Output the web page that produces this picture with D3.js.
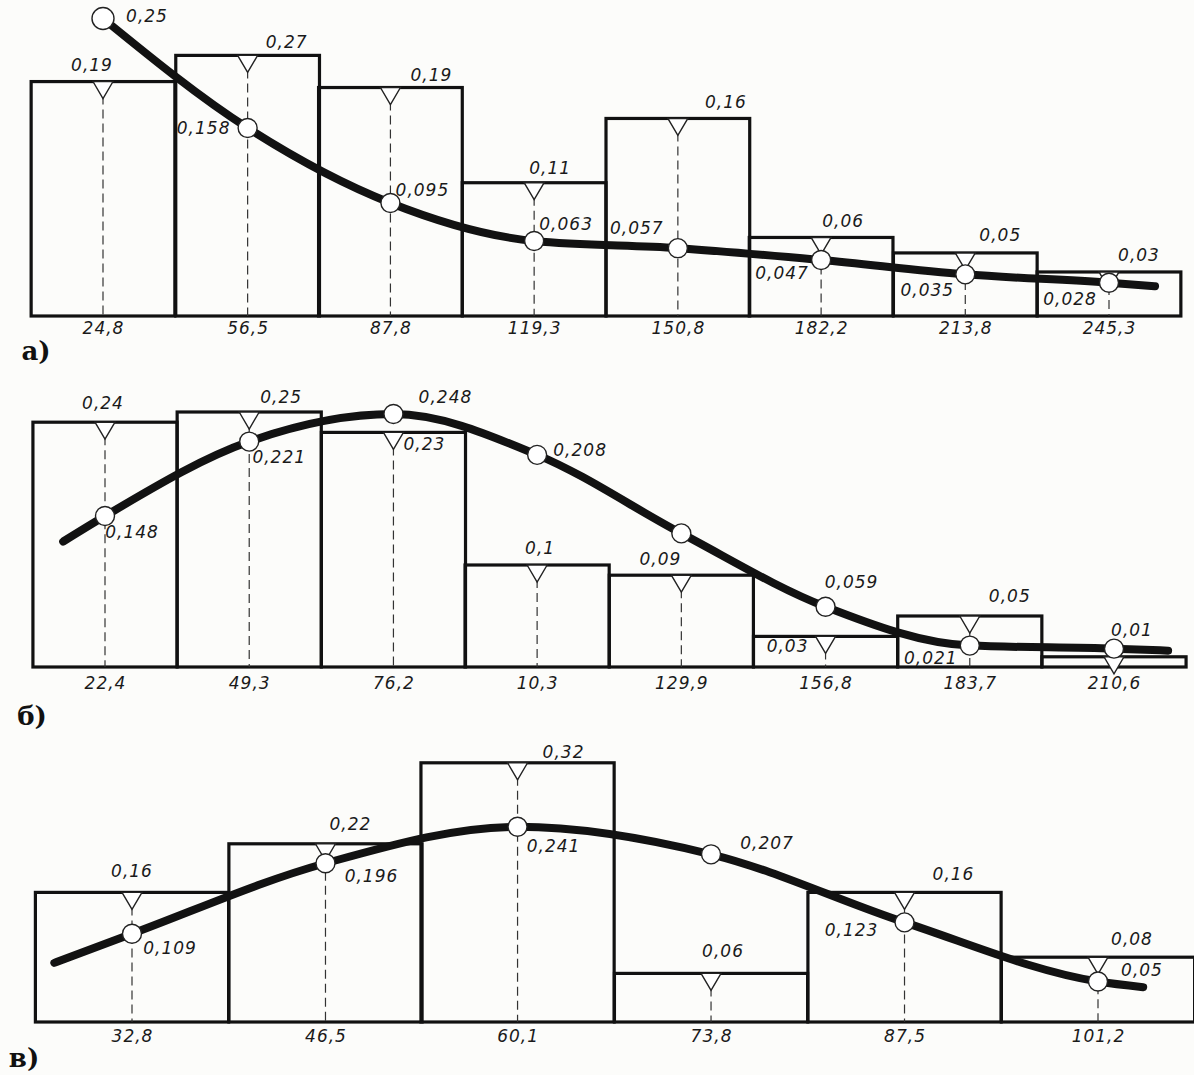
<!DOCTYPE html>
<html>
<head>
<meta charset="utf-8">
<script src="https://cdn.jsdelivr.net/npm/d3@7"></script>
<style>
  html, body { margin: 0; padding: 0; background: #fcfcfa; }
  svg { display: block; }
  .val, .tick { font-family: "DejaVu Sans", sans-serif; font-style: italic; font-weight: 300; font-size: 17px; letter-spacing: 1px; fill: #1a1a1a; }
  .panel { font-family: "DejaVu Serif", serif; font-weight: bold; font-size: 26px; fill: #111; }
</style>
</head>
<body>
<svg id="chart" width="1194" height="1075"></svg>
<script>
// ---------- Panel а ----------
const aMids = [24.8, 56.5, 87.8, 119.3, 150.8, 182.2, 213.8, 245.3];
const aTickLabels = ["24,8", "56,5", "87,8", "119,3", "150,8", "182,2", "213,8", "245,3"];
const aBarHeights = [0.197, 0.219, 0.192, 0.112, 0.166, 0.066, 0.053, 0.037]; // heights as drawn
const aBarLabels = ["0,19", "0,27", "0,19", "0,11", "0,16", "0,06", "0,05", "0,03"];
const aCurveValues = [0.25, 0.158, 0.095, 0.063, 0.057, 0.047, 0.035, 0.028];
const aCurveLabels = ["0,25", "0,158", "0,095", "0,063", "0,057", "0,047", "0,035", "0,028"];
const aCurveStart = null;
const aCurveEnd = [255.4, 0.025];

// ---------- Panel б ----------
const bMids = [22.4, 49.3, 76.2, 103.0, 129.9, 156.8, 183.7, 210.6];
const bTickLabels = ["22,4", "49,3", "76,2", "10,3", "129,9", "156,8", "183,7", "210,6"];
const bBarHeights = [0.24, 0.25, 0.23, 0.1, 0.09, 0.03, 0.05, 0.01];
const bBarLabels = ["0,24", "0,25", "0,23", "0,1", "0,09", "0,03", "0,05", "0,01"];
const bCurveValues = [0.148, 0.221, 0.248, 0.208, 0.131, 0.059, 0.021, 0.018];
const bCurveLabels = ["0,148", "0,221", "0,248", "0,208", null, "0,059", "0,021", null];
const bCurveStart = [14.6, 0.123];
const bCurveEnd = [220.7, 0.016];

// ---------- Panel в ----------
const cMids = [32.8, 46.5, 60.1, 73.8, 87.5, 101.2];
const cTickLabels = ["32,8", "46,5", "60,1", "73,8", "87,5", "101,2"];
const cBarHeights = [0.16, 0.22, 0.32, 0.06, 0.16, 0.08];
const cBarLabels = ["0,16", "0,22", "0,32", "0,06", "0,16", "0,08"];
const cCurveValues = [0.109, 0.196, 0.241, 0.207, 0.123, 0.05];
const cCurveLabels = ["0,109", "0,196", "0,241", "0,207", "0,123", "0,05"];
const cCurveStart = [27.3, 0.073];
const cCurveEnd = [104.4, 0.043];

const panelNames = ["а)", "б)", "в)"];

// ---------- layout (presentation only) ----------
const layouts = [
  { xr: [103, 1109], base: 316, k: 1190, label: [36, 351], firstR: 11, tickPad: 4,
    barOff: [[-11,-17],[39,-13],[41,-13],[16,-15],[48,-16],[22,-16],[35,-18],[30,-17]],
    curOff: [[44,-3],[-44,0],[32,-13],[32,-17],[-41,-20],[-39,13],[-38,16],[-39,16]] },
  { xr: [105, 1114], base: 667, k: 1020, label: [32, 716], firstR: 9.5, tickPad: 8,
    barOff: [[-2,-19],[32,-15],[31,12],[3,-17],[-21,-16],[-38,10],[40,-20],[18,-27]],
    curOff: [[27,16],[30,15],[52,-17],[43,-5],null,[26,-25],[-39,12],null] },
  { xr: [132, 1098], base: 1022, k: 810, label: [24, 1058], firstR: 9.5, tickPad: 6,
    barOff: [[0,-21],[25,-20],[46,-11],[12,-22],[49,-18],[34,-18]],
    curOff: [[38,14],[46,13],[36,19],[56,-11],[-53,8],[44,-12]] }
];

const panels = [
  { mids: aMids, ticks: aTickLabels, bars: aBarHeights, barLabels: aBarLabels, curve: aCurveValues, curveLabels: aCurveLabels, start: aCurveStart, end: aCurveEnd },
  { mids: bMids, ticks: bTickLabels, bars: bBarHeights, barLabels: bBarLabels, curve: bCurveValues, curveLabels: bCurveLabels, start: bCurveStart, end: bCurveEnd },
  { mids: cMids, ticks: cTickLabels, bars: cBarHeights, barLabels: cBarLabels, curve: cCurveValues, curveLabels: cCurveLabels, start: cCurveStart, end: cCurveEnd }
];

const svg = d3.select("#chart");

panels.forEach((p, pi) => {
  const L = layouts[pi];
  const n = p.mids.length;
  const x = d3.scaleLinear().domain([p.mids[0], p.mids[n - 1]]).range(L.xr);
  const y = d3.scaleLinear().domain([0, 1]).range([L.base, L.base - L.k]);
  const h = (p.mids[n - 1] - p.mids[0]) / (n - 1);
  const g = svg.append("g");

  const data = p.mids.map((m, i) => ({ m, i, bar: p.bars[i], bl: p.barLabels[i], cv: p.curve[i], cl: p.curveLabels[i] }));

  // bars
  g.selectAll("rect.bar").data(data).join("rect")
    .attr("x", d => x(d.m - h / 2))
    .attr("y", d => y(d.bar))
    .attr("width", d => x(d.m + h / 2) - x(d.m - h / 2))
    .attr("height", d => y(0) - y(d.bar))
    .attr("fill", "none").attr("stroke", "#111").attr("stroke-width", 3.2);

  // dashed verticals
  g.selectAll("line.dash").data(data).join("line")
    .attr("x1", d => x(d.m)).attr("x2", d => x(d.m))
    .attr("y1", d => y(d.bar) + 14).attr("y2", y(0))
    .attr("stroke", "#333").attr("stroke-width", 1.2).attr("stroke-dasharray", "9,5");

  // triangles
  const tw = 10, th = 17;
  g.selectAll("path.tri").data(data).join("path")
    .attr("d", d => {
      const cx = x(d.m), ty = y(d.bar);
      return `M${cx - tw},${ty} L${cx + tw},${ty} L${cx},${ty + th} Z`;
    })
    .attr("fill", "#fff").attr("stroke", "#222").attr("stroke-width", 1.4);

  // curve
  const pts = [];
  if (p.start) pts.push(p.start);
  p.mids.forEach((m, i) => pts.push([m, p.curve[i]]));
  if (p.end) pts.push(p.end);
  const line = d3.line().x(d => x(d[0])).y(d => y(d[1])).curve(d3.curveMonotoneX);
  g.append("path").datum(pts).attr("d", line)
    .attr("fill", "none").attr("stroke", "#121212").attr("stroke-width", 8).attr("stroke-linecap", "round");

  // circles
  g.selectAll("circle.pt").data(data).join("circle")
    .attr("cx", d => x(d.m)).attr("cy", d => y(d.cv))
    .attr("r", d => (d.i === 0 ? L.firstR : 9.5))
    .attr("fill", "#fff").attr("stroke", "#222").attr("stroke-width", 1.4);

  // bar value labels
  g.selectAll("text.bl").data(data).join("text").attr("class", "val")
    .attr("x", d => x(d.m) + L.barOff[d.i][0])
    .attr("y", d => y(d.bar) + L.barOff[d.i][1])
    .attr("text-anchor", "middle").attr("dominant-baseline", "central")
    .text(d => d.bl);

  // curve value labels
  g.selectAll("text.cl").data(data.filter(d => d.cl)).join("text").attr("class", "val")
    .attr("x", d => x(d.m) + L.curOff[d.i][0])
    .attr("y", d => y(d.cv) + L.curOff[d.i][1])
    .attr("text-anchor", "middle").attr("dominant-baseline", "central")
    .text(d => d.cl);

  // x axis tick labels
  const axis = d3.axisBottom(x).tickValues(p.mids).tickSize(0).tickPadding(L.tickPad)
    .tickFormat((d, i) => p.ticks[i]);
  const ax = g.append("g").attr("transform", `translate(0,${L.base + 2})`).call(axis);
  ax.select(".domain").remove();
  ax.selectAll("text").attr("class", "tick").attr("fill", null).style("font-size", null).style("font-family", null);

  // panel letter
  g.append("text").attr("class", "panel")
    .attr("x", L.label[0]).attr("y", L.label[1])
    .attr("text-anchor", "middle").attr("dominant-baseline", "central")
    .text(panelNames[pi]);
});
</script>
</body>
</html>
